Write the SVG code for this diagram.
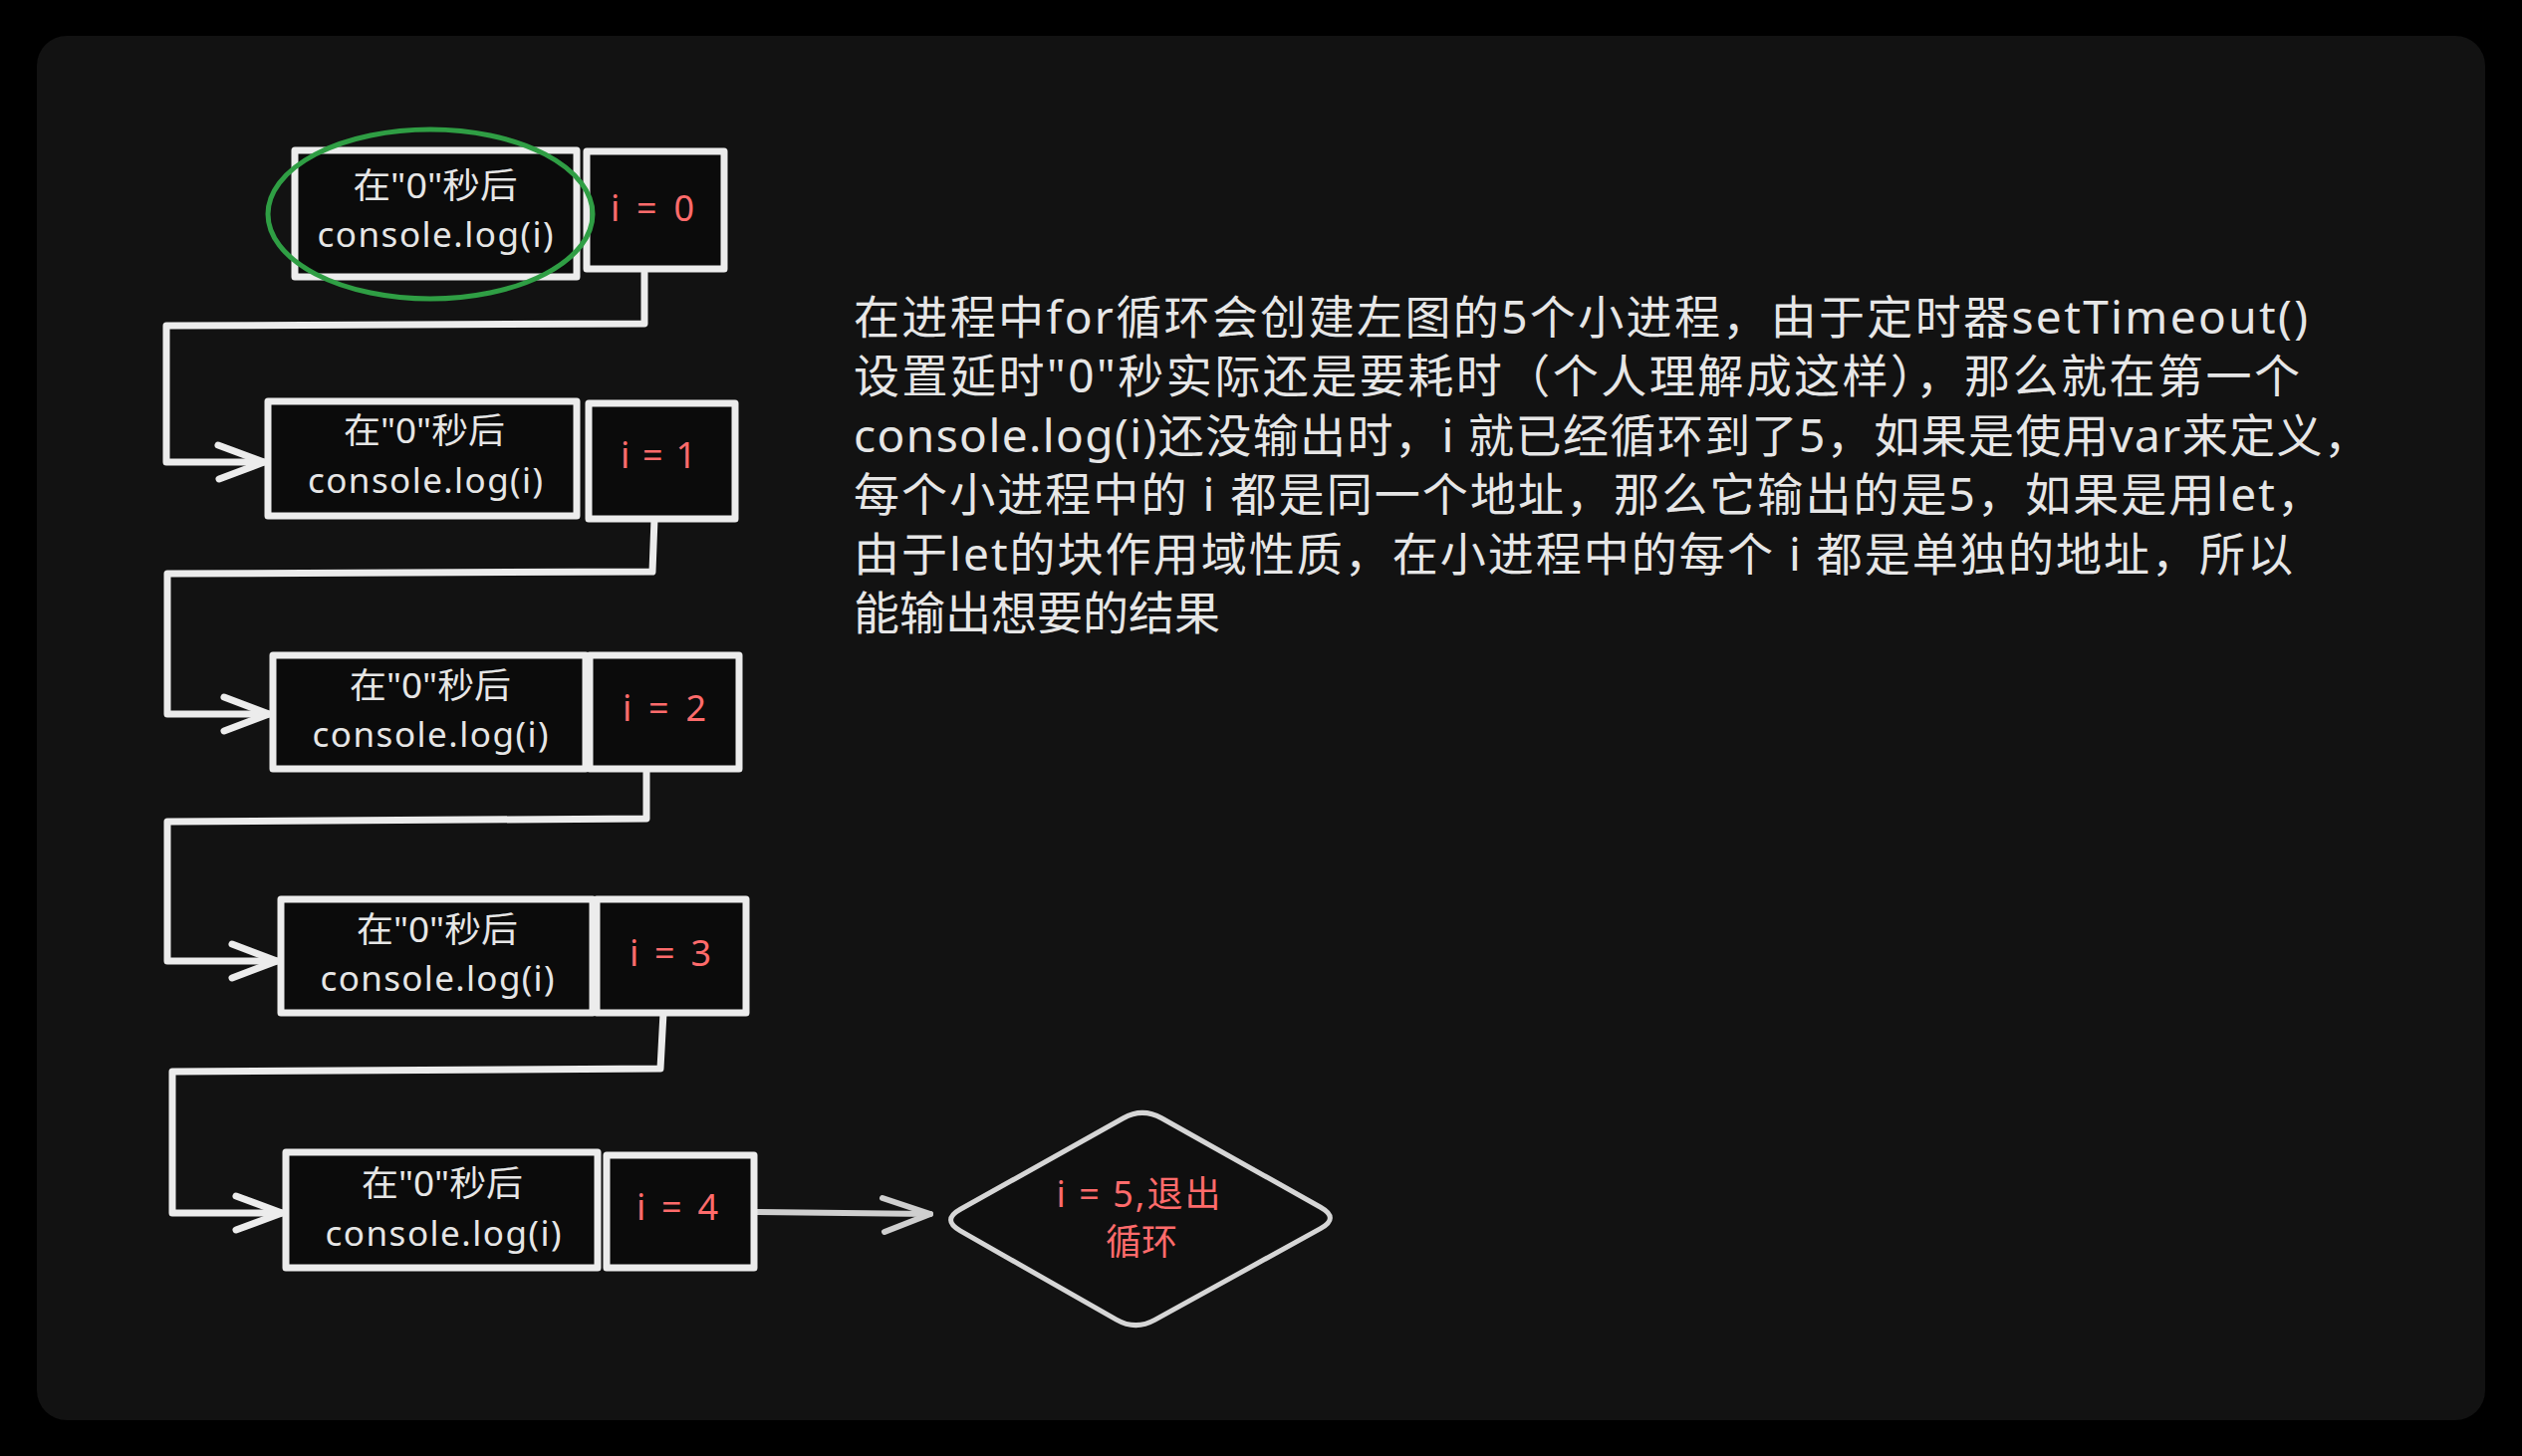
<svg xmlns="http://www.w3.org/2000/svg" width="2532" height="1462" viewBox="0 0 2532 1462">
<style>
.box{fill:#0b0b0b;stroke:#ececec;stroke-width:7;stroke-linejoin:round}
.t{font-family:"Noto Sans","Noto Sans CJK SC",sans-serif;fill:#e6e6e6;text-anchor:middle}
.bt{font-size:35px}
.lbl{font-family:"Noto Sans","Noto Sans CJK SC",sans-serif;fill:#ff6b6b;font-size:36px;text-anchor:middle}
.para{font-family:"Noto Sans","Noto Sans CJK SC",sans-serif;fill:#e6e6e6;font-size:46px}
.wire{fill:none;stroke:#ececec;stroke-width:7;stroke-linejoin:round;stroke-linecap:round}
.wire2{fill:none;stroke:#cfcfcf;stroke-width:6;stroke-linejoin:round;stroke-linecap:round}
</style>
<rect x="0" y="0" width="2532" height="1462" fill="#000"/>
<rect x="37" y="36" width="2458" height="1390" rx="30" fill="#121212"/>

<g id="connectors">
<path class="wire" d="M647,274 L647,325 L167,327 L167,464 L265,464"/>
<path class="wire" d="M219,447 L265,464 L220,481"/>
<path class="wire" d="M657,521 L655,574 L168,576 L168,717 L270,717"/>
<path class="wire" d="M225,700 L270,717 L225,734"/>
<path class="wire" d="M649,772 L649,822 L168,825 L168,965 L278,965"/>
<path class="wire" d="M233,948 L278,965 L233,982"/>
<path class="wire" d="M666,1017 L663,1073 L173,1076 L173,1218 L283,1218"/>
<path class="wire" d="M237,1201 L283,1218 L237,1235"/>
<path class="wire2" d="M760,1217 L934,1219"/>
<path class="wire2" d="M886,1203 L934,1219 L888,1237"/>
</g>

<g id="node-0">
<rect class="box" x="296" y="151" width="283" height="127"/>
<rect class="box" x="589" y="152" width="138" height="118"/>
<text class="t bt" x="437" y="199" textLength="165" lengthAdjust="spacingAndGlyphs">在"0"秒后</text>
<text class="t bt" x="437" y="248" textLength="237" lengthAdjust="spacing">console.log(i)</text>
<text class="lbl" x="655" y="222" textLength="84" lengthAdjust="spacing">i = 0</text>
</g>

<g id="node-1">
<rect class="box" x="269" y="403" width="310" height="115"/>
<rect class="box" x="591" y="405" width="147" height="116"/>
<text class="t bt" x="426" y="445" textLength="162" lengthAdjust="spacingAndGlyphs">在"0"秒后</text>
<text class="t bt" x="427" y="495" textLength="236" lengthAdjust="spacing">console.log(i)</text>
<text class="lbl" x="661" y="470" textLength="76" lengthAdjust="spacing">i = 1</text>
</g>

<g id="node-2">
<rect class="box" x="274" y="658" width="314" height="114"/>
<rect class="box" x="592" y="658" width="150" height="114"/>
<text class="t bt" x="432" y="701" textLength="162" lengthAdjust="spacingAndGlyphs">在"0"秒后</text>
<text class="t bt" x="432" y="750" textLength="237" lengthAdjust="spacing">console.log(i)</text>
<text class="lbl" x="667" y="724" textLength="84" lengthAdjust="spacing">i = 2</text>
</g>

<g id="node-3">
<rect class="box" x="282" y="903" width="313" height="114"/>
<rect class="box" x="599" y="903" width="150" height="114"/>
<text class="t bt" x="439" y="946" textLength="162" lengthAdjust="spacingAndGlyphs">在"0"秒后</text>
<text class="t bt" x="439" y="995" textLength="235" lengthAdjust="spacing">console.log(i)</text>
<text class="lbl" x="673" y="970" textLength="82" lengthAdjust="spacing">i = 3</text>
</g>

<g id="node-4">
<rect class="box" x="287" y="1157" width="313" height="116"/>
<rect class="box" x="609" y="1160" width="148" height="113"/>
<text class="t bt" x="444" y="1201" textLength="162" lengthAdjust="spacingAndGlyphs">在"0"秒后</text>
<text class="t bt" x="445" y="1251" textLength="237" lengthAdjust="spacing">console.log(i)</text>
<text class="lbl" x="680" y="1225" textLength="82" lengthAdjust="spacing">i = 4</text>
</g>

<g id="node-exit">
<path d="M964.2,1214.3 L1127.8,1122.7 Q1147,1112 1166.2,1122.8 L1325.8,1212.2 Q1345,1223 1325.7,1233.6 L1159.3,1325.4 Q1140,1336 1120.9,1325.1 L964.1,1235.9 Q945,1225 964.2,1214.3 Z" fill="#0f0f0f" stroke="#d6d6d6" stroke-width="5" stroke-linejoin="round"/>
<text class="lbl" x="1143" y="1212" textLength="165" lengthAdjust="spacing">i = 5,退出</text>
<text class="lbl" x="1146" y="1260">循环</text>
</g>

<g id="highlight">
<ellipse cx="432" cy="215" rx="163" ry="85" fill="none" stroke="#2f9e44" stroke-width="5"/>
</g>

<g id="annotation">
<text class="para" x="857" y="335" textLength="1460" lengthAdjust="spacing">在进程中for循环会创建左图的5个小进程，由于定时器setTimeout()</text>
<text class="para" x="857" y="394" textLength="1452" lengthAdjust="spacing">设置延时"0"秒实际还是要耗时（个人理解成这样），那么就在第一个</text>
<text class="para" x="857" y="454" textLength="1522" lengthAdjust="spacing">console.log(i)还没输出时，i 就已经循环到了5，如果是使用var来定义，</text>
<text class="para" x="857" y="513" textLength="1475" lengthAdjust="spacing">每个小进程中的 i 都是同一个地址，那么它输出的是5，如果是用let，</text>
<text class="para" x="857" y="573" textLength="1445" lengthAdjust="spacing">由于let的块作用域性质，在小进程中的每个 i 都是单独的地址，所以</text>
<text class="para" x="857" y="632">能输出想要的结果</text>
</g>
</svg>
